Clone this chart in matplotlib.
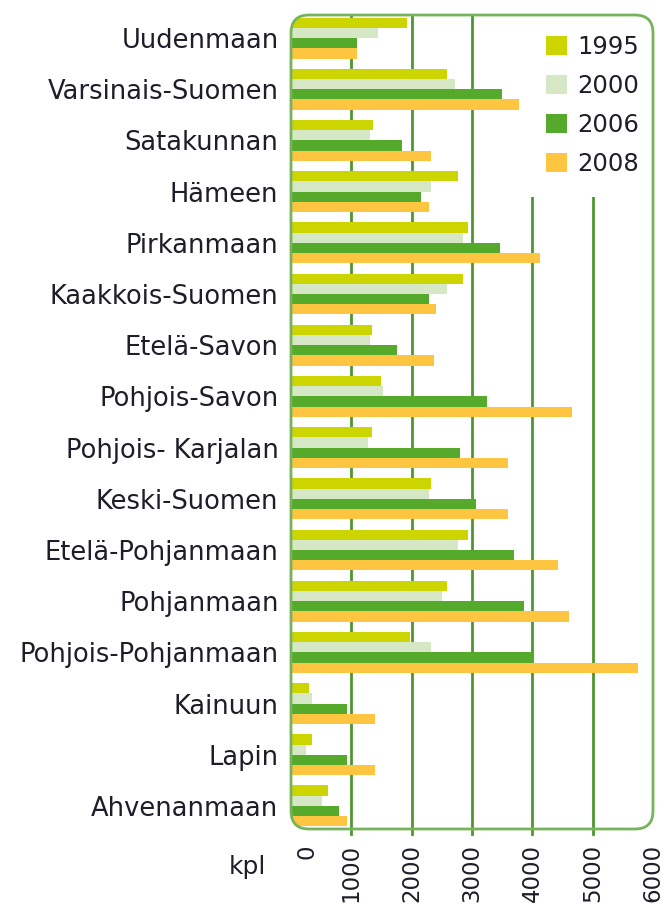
import matplotlib
matplotlib.use("Agg")
import matplotlib.pyplot as plt
import numpy as np
from matplotlib.patches import FancyBboxPatch
from matplotlib.transforms import ScaledTranslation

regions = ["Uudenmaan", "Varsinais-Suomen", "Satakunnan", "Hämeen", "Pirkanmaan",
           "Kaakkois-Suomen", "Etelä-Savon", "Pohjois-Savon", "Pohjois- Karjalan",
           "Keski-Suomen", "Etelä-Pohjanmaan", "Pohjanmaan", "Pohjois-Pohjanmaan",
           "Kainuun", "Lapin", "Ahvenanmaan"]
years = ["1995", "2000", "2006", "2008"]

v1995 = [1930, 2580, 1360, 2760, 2930, 2850, 1350, 1490, 1350, 2320, 2930, 2580, 1970, 300, 340, 610]
v2000 = [1450, 2720, 1310, 2320, 2850, 2580, 1310, 1530, 1270, 2280, 2760, 2500, 2320, 340, 250, 520]
v2006 = [1090, 3500, 1840, 2150, 3470, 2280, 1750, 3250, 2800, 3070, 3690, 3860, 4020, 920, 920, 790]
v2008 = [1090, 3780, 2320, 2280, 4120, 2410, 2370, 4650, 3590, 3590, 4430, 4600, 5750, 1400, 1400, 920]

colors = ["#cdd500", "#d6e7c6", "#55a92b", "#fec540"]
text_col = "#1e1e2a"
grid_col = "#4f962f"
border_col = "#76b35a"

W, H = 665, 906
fig = plt.figure(figsize=(W / 100, H / 100), dpi=100)
ax = fig.add_axes([291 / W, 1 - 829 / H, (653 - 291) / W, (829 - 15) / H])

y = np.arange(len(regions))
h = 0.2
series = [v1995, v2000, v2006, v2008]
bars = []
for k, (vals, c) in enumerate(zip(series, colors)):
    b = ax.barh(y + (k - 1.5) * h, vals, height=h, color=c, label=years[k], zorder=3)
    bars.append(b)

ax.set_xlim(0, 6000)
ax.set_ylim(15.45, -0.45)

ax.set_xticks(range(0, 7000, 1000))
ax.set_xticklabels([str(t) for t in range(0, 7000, 1000)], rotation=90,
                   fontsize=16.5, color=text_col, va="top")
ax.set_yticks(y)
ax.set_yticklabels(regions, fontsize=18.5, color=text_col)
ax.tick_params(axis="y", length=0, pad=9)
ax.tick_params(axis="x", length=0, pad=11)

# the "0" label sits a bit to the right in the original
lab0 = ax.get_xticklabels()[0]
lab0.set_transform(lab0.get_transform() + ScaledTranslation(0.16, 0, fig.dpi_scale_trans))

for s in ax.spines.values():
    s.set_visible(False)
ax.set_facecolor("none")

# grid lines poke out a little below the frame
for g in range(1000, 6000, 1000):
    ax.axvline(g, ymin=-0.006, ymax=1, color=grid_col, lw=2, zorder=1, clip_on=False)

# rounded green frame around the plot area (drawn above the legend box)
x0, x1, yt, yb = 291, 653, 15, 829
box = dict(xy=(x0 / 100, (H - yb) / 100), width=(x1 - x0) / 100, height=(yb - yt) / 100,
           boxstyle="round,pad=0,rounding_size=0.18", transform=fig.dpi_scale_trans)
frame = FancyBboxPatch(**box, facecolor="none", edgecolor=border_col, lw=2,
                       zorder=10, clip_on=False)
ax.add_artist(frame)
clip = FancyBboxPatch(**box)
for b in bars:
    for r in b:
        r.set_clip_path(clip)

leg = ax.legend(loc="upper right", bbox_to_anchor=(660 / W, 1 - 14 / H),
                bbox_transform=fig.transFigure, frameon=True, fancybox=False,
                fontsize=17.5, handlelength=0.85, handleheight=0.85,
                handletextpad=0.45, labelspacing=0.62, borderpad=0.85, borderaxespad=0)
leg.get_frame().set_facecolor("white")
leg.get_frame().set_edgecolor("none")
leg.get_frame().set_alpha(1)
for t in leg.get_texts():
    t.set_color(text_col)

fig.text(247 / W, 1 - 867 / H, "kpl", fontsize=18, color=text_col, ha="center", va="center")

fig.savefig("out.png", dpi=100)
